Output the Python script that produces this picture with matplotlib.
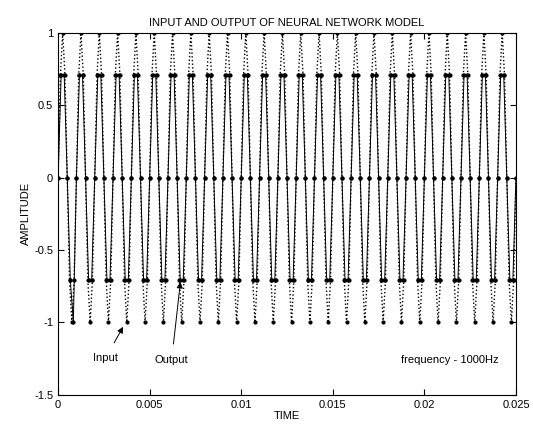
import numpy as np
import matplotlib
matplotlib.use("Agg")
from matplotlib import pyplot as plt

plt.rcParams['font.family'] = ['Liberation Sans', 'DejaVu Sans']
plt.rcParams['font.size'] = 8

# input signal: 6 samples per period of 1 ms
in_step = 1 / 6000
in_cycle = [0, 0.707, 0.707, 0, -0.707, -0.707]
in_first = [0, 0.707, 0.707, 0, -0.707, -1.0]   # first period dips to -1
n_periods = 25
input_vals = in_first + in_cycle * (n_periods - 1) + [0]
input_t = np.arange(len(input_vals)) * in_step

# network output: 8 samples per period, dotted curve
out_step = 1 / 8000
out_cycle = [0, 0.707, 1, 0.707, 0, -0.707, -1, -0.707]
output_vals = out_cycle * n_periods + [0]
output_t = np.arange(len(output_vals)) * out_step

xticks = [0, 0.005, 0.01, 0.015, 0.02, 0.025]
xlabels = ['0', '0.005', '0.01', '0.015', '0.02', '0.025']
yticks = [-1.5, -1, -0.5, 0, 0.5, 1]
ylabels = ['-1.5', '-1', '-0.5', '0', '0.5', '1']

fig = plt.figure(figsize=(5.33, 4.32), dpi=100)
ax = fig.add_axes([0.109, 0.086, 0.859, 0.838])

ax.plot(input_t, input_vals, '-', color='black', lw=0.7,
        marker='.', ms=4)
ax.plot(output_t, output_vals, ':', color='black', lw=1.0,
        marker='.', ms=4)

ax.set_xlim(0, 0.025)
ax.set_ylim(-1.5, 1)
ax.set_xticks(xticks)
ax.set_xticklabels(xlabels)
ax.set_yticks(yticks)
ax.set_yticklabels(ylabels)
ax.tick_params(direction='in', top=True, right=True, length=4, width=0.8)
for s in ax.spines.values():
    s.set_linewidth(0.8)

ax.set_title('INPUT AND OUTPUT OF NEURAL NETWORK MODEL', fontsize=8, pad=5)
ax.set_xlabel('TIME', labelpad=1)
ax.set_ylabel('AMPLITUDE', labelpad=2)

ax.annotate('Input', xy=(0.00355, -1.03), xytext=(0.0026, -1.245),
            ha='center', va='center',
            arrowprops=dict(arrowstyle='-|>', color='black', lw=0.7,
                            mutation_scale=9, shrinkA=6, shrinkB=0))
ax.annotate('Output', xy=(0.00668, -0.72), xytext=(0.0062, -1.26),
            ha='center', va='center',
            arrowprops=dict(arrowstyle='-|>', color='black', lw=0.7,
                            mutation_scale=9, shrinkA=6, shrinkB=0))
ax.text(0.0187, -1.26, 'frequency - 1000Hz', ha='left', va='center')

fig.savefig('out.png', dpi=100)
